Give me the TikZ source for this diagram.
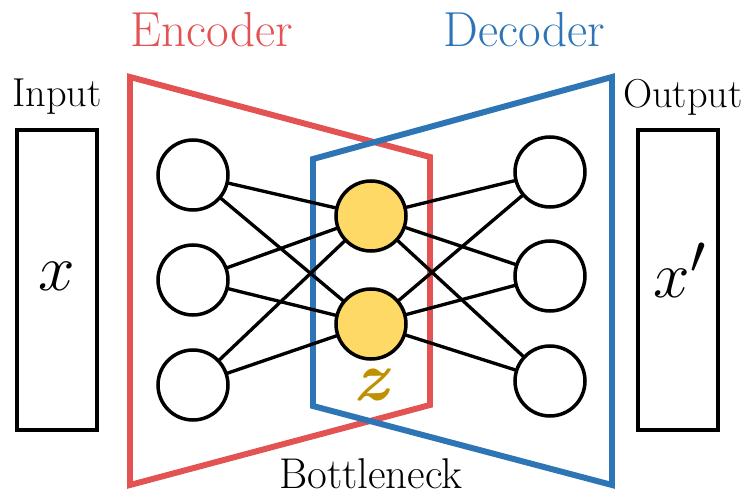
\documentclass[tikz,border=0pt]{standalone}
\usepackage{amsmath}
\definecolor{encred}{HTML}{E35353}
\definecolor{decblue}{HTML}{2E75B6}
\definecolor{zfill}{HTML}{FFD966}
\definecolor{zgold}{HTML}{BF9000}
\tikzset{
    unit/.style={circle, draw=black, line width=2pt, fill=white, minimum size=1.4cm, inner sep=0pt},
    latent/.style={unit, fill=zfill},
    databox/.style={draw=black, line width=2pt, minimum width=1.6cm, minimum height=6cm, inner sep=0pt},
    caption/.style={font=\fontsize{23}{28}\selectfont},
    title/.style={font=\fontsize{28}{32}\selectfont},
    symb/.style={font=\Huge, scale=1.5},
    edge/.style={line width=1.9pt}
}
\begin{document}
\begin{tikzpicture}[x=0.02cm, y=-0.02cm]
            \useasboundingbox (0,0) rectangle (745,497);

            % encoder and decoder outlines
            \draw[encred, line width=3.4pt, line join=miter] (130,77) -- (430,157) -- (430,405) -- (130,485) -- cycle;
            \draw[decblue, line width=3.4pt, line join=miter] (612,77) -- (313,159) -- (313,406) -- (612,485) -- cycle;

            \node[title, text=encred] (enc) at (212,30) {Encoder};
            \node[title, text=decblue] (dec) at (524,30) {Decoder};

            % input and output data
            \node[caption] (inlabel) at (57,97) {Input};
            \node[caption] (outlabel) at (683,97) {Output};
            \node[databox] (in) at (57,280) {};
            \node[databox] (out) at (678,280) {};
            \node[symb] (x) at (57,276) {$x$};
            \node[symb] (xp) at (680,270) {$x'$};

            % layers
            \coordinate (h1c) at (193,175); \coordinate (h2c) at (193,280); \coordinate (h3c) at (193,385);
            \coordinate (z1c) at (371,216); \coordinate (z2c) at (371,324);
            \coordinate (o1c) at (550,172); \coordinate (o2c) at (550,276); \coordinate (o3c) at (550,381);

            \draw[edge] (h1c) to (z1c); \draw[edge] (h1c) to (z2c);
            \draw[edge] (h2c) to (z1c); \draw[edge] (h2c) to (z2c);
            \draw[edge] (h3c) to (z1c); \draw[edge] (h3c) to (z2c);
            \draw[edge] (z1c) to (o1c); \draw[edge] (z1c) to (o2c); \draw[edge] (z1c) to (o3c);
            \draw[edge] (z2c) to (o1c); \draw[edge] (z2c) to (o2c); \draw[edge] (z2c) to (o3c);

            \node[unit] (h1) at (h1c) {};
            \node[unit] (h2) at (h2c) {};
            \node[unit] (h3) at (h3c) {};
            \node[latent] (z1) at (z1c) {};
            \node[latent] (z2) at (z2c) {};
            \node[unit] (o1) at (o1c) {};
            \node[unit] (o2) at (o2c) {};
            \node[unit] (o3) at (o3c) {};

            \node[font=\Huge\bfseries\itshape, scale=1.6, text=zgold] (zlabel) at (371,385) {z};
            \node[font=\fontsize{24.5}{28}\selectfont] (bottleneck) at (371,474) {Bottleneck};
        \end{tikzpicture}
\end{document}
